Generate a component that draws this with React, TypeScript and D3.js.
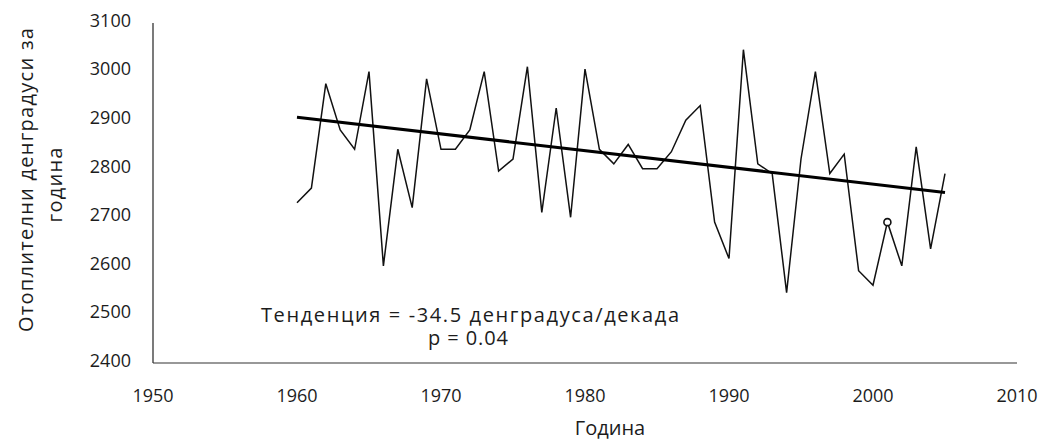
import React from "react";
import * as d3 from "d3";

const years: number[] = [
  1960, 1961, 1962, 1963, 1964, 1965, 1966, 1967, 1968, 1969,
  1970, 1971, 1972, 1973, 1974, 1975, 1976, 1977, 1978, 1979,
  1980, 1981, 1982, 1983, 1984, 1985, 1986, 1987, 1988, 1989,
  1990, 1991, 1992, 1993, 1994, 1995, 1996, 1997, 1998, 1999,
  2000, 2001, 2002, 2003, 2004, 2005,
];
const degreeDays: number[] = [
  2730, 2760, 2975, 2880, 2840, 3000, 2600, 2840, 2720, 2985,
  2840, 2840, 2880, 3000, 2795, 2820, 3010, 2710, 2925, 2700,
  3005, 2840, 2810, 2850, 2800, 2800, 2835, 2900, 2930, 2690,
  2615, 3045, 2810, 2790, 2545, 2820, 3000, 2790, 2830, 2590,
  2560, 2690, 2600, 2845, 2635, 2790,
];
const trendYears: number[] = [1960, 2005];
const trendValues: number[] = [2906, 2751];
const markedYears: number[] = [2001];

const xTicks: number[] = [1950, 1960, 1970, 1980, 1990, 2000, 2010];
const yTicks: number[] = [2400, 2500, 2600, 2700, 2800, 2900, 3000, 3100];

const yTitleLine1 = "Отоплителни денградуси за";
const yTitleLine2 = "година";
const xTitle = "Година";
const trendText = "Тенденция = -34.5 денградуса/декада";
const pText = "p = 0.04";

const W = 1046;
const H = 440;
const FONT = "'Open Sans', 'DejaVu Sans', sans-serif";

export default function App() {
  const x = d3.scaleLinear().domain([1950, 2010]).range([153, 1017]);
  const y = d3.scaleLinear().domain([2400, 3100]).range([363, 23]);

  const pts: [number, number][] = years.map((yr, i) => [yr, degreeDays[i]]);
  const line = d3
    .line<[number, number]>()
    .x((d) => x(d[0]))
    .y((d) => y(d[1]));
  const trendPts: [number, number][] = trendYears.map((yr, i) => [yr, trendValues[i]]);

  const textColor = "#1c1c1c";

  return (
    <div style={{ position: "fixed", left: 0, top: 0, width: W, height: H, background: "#fff" }}>
      <svg width={W} height={H} style={{ display: "block" }} fontFamily={FONT}>
        <rect x={0} y={0} width={W} height={H} fill="#fff" />
        {/* axes */}
        <line x1={x(1950)} x2={x(1950)} y1={y(3100)} y2={y(2400)} stroke="#333" strokeWidth={1.3} />
        <line x1={x(1950)} x2={x(2010)} y1={y(2400)} y2={y(2400)} stroke="#333" strokeWidth={1.1} />

        {/* y tick labels */}
        {yTicks.map((t) => (
          <text
            key={"y" + t}
            x={131}
            y={y(t) - 1}
            textAnchor="end"
            dominantBaseline="middle"
            fontSize={18}
            fill={textColor}
          >
            {t}
          </text>
        ))}
        {/* x tick labels */}
        {xTicks.map((t) => (
          <text key={"x" + t} x={x(t)} y={402} textAnchor="middle" fontSize={18} fill={textColor}>
            {t}
          </text>
        ))}

        {/* axis titles */}
        <text x={610} y={435} textAnchor="middle" fontSize={20} fill={textColor}>
          {xTitle}
        </text>
        <text
          transform={`translate(33,180) rotate(-90)`}
          textAnchor="middle"
          fontSize={20}
          fill={textColor}
          textLength={304}
          lengthAdjust="spacing"
        >
          {yTitleLine1}
        </text>
        <text
          transform={`translate(62,185) rotate(-90)`}
          textAnchor="middle"
          fontSize={20}
          fill={textColor}
          textLength={75}
          lengthAdjust="spacing"
        >
          {yTitleLine2}
        </text>

        {/* data line */}
        <path d={line(pts) || ""} fill="none" stroke="#111" strokeWidth={1.5} strokeLinejoin="miter" />
        {/* trend */}
        <path d={line(trendPts) || ""} fill="none" stroke="#000" strokeWidth={3.2} />
        {/* marked points */}
        {markedYears.map((yr) => {
          const i = years.indexOf(yr);
          return (
            <circle
              key={"m" + yr}
              cx={x(yr)}
              cy={y(degreeDays[i])}
              r={3.5}
              fill="#fff"
              stroke="#111"
              strokeWidth={1.6}
            />
          );
        })}

        {/* annotation */}
        <text
          x={470}
          y={322}
          textAnchor="middle"
          fontSize={20}
          fill={textColor}
          textLength={418}
          lengthAdjust="spacing"
        >
          {trendText}
        </text>
        <text
          x={468}
          y={345}
          textAnchor="middle"
          fontSize={20}
          fill={textColor}
          textLength={80}
          lengthAdjust="spacing"
        >
          {pText}
        </text>
      </svg>
    </div>
  );
}
